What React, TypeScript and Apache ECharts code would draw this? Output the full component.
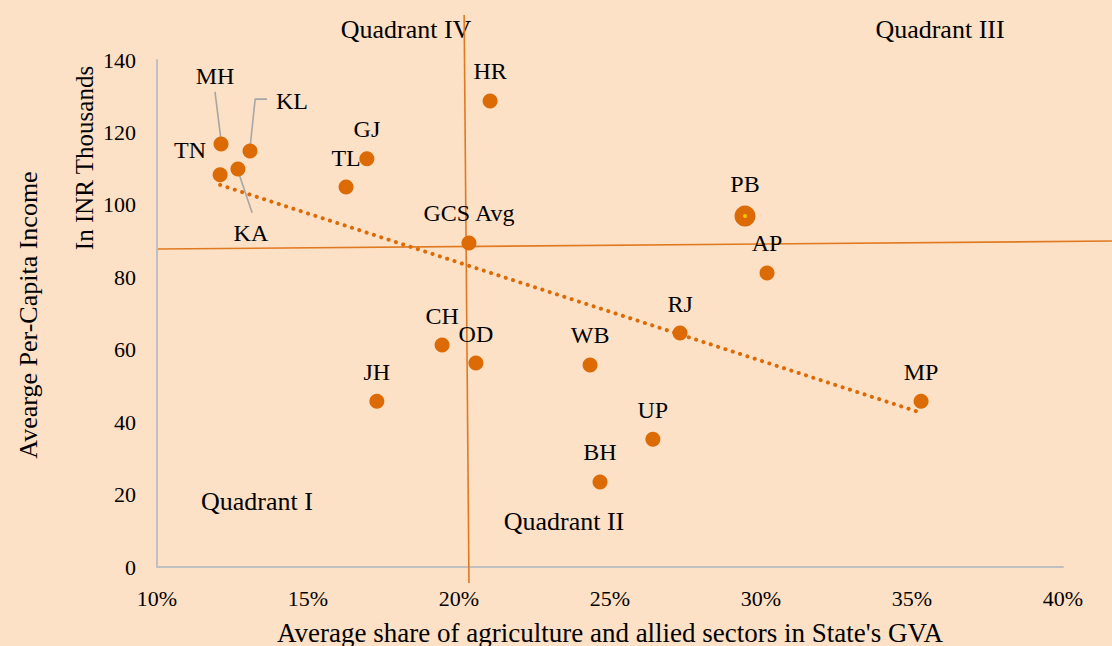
import React, { useEffect, useRef } from "react";
import * as echarts from "echarts";

// Data
const stateNames = ["MH", "KL", "TN", "KA", "GJ", "TL", "HR", "GCS Avg", "PB", "AP", "RJ", "CH", "OD", "WB", "JH", "MP", "UP", "BH"];
const agriShare = [12.12, 13.08, 12.09, 12.68, 16.95, 16.26, 21.03, 20.33, 29.47, 30.2, 27.32, 19.44, 20.56, 24.34, 17.28, 35.3, 26.42, 24.67];
const perCapita = [116.8, 114.9, 108.3, 109.9, 112.7, 104.9, 128.7, 89.5, 96.9, 81.2, 64.6, 61.3, 56.3, 55.8, 45.8, 45.8, 35.3, 23.5];

// Trend line end points
const trendX = [12.09, 35.33];
const trendY = [105.5, 42.5];

// Quadrant divider lines (slightly tilted, as in the original)
const vDividerX = [20.17, 20.33];
const vDividerY = [152.4, -4.4];
const hDividerX = [10.03, 41.62];
const hDividerY = [87.8, 90.0];

// Leader lines for crowded labels
const leaderMH = [[11.92, 131.2], [12.12, 117.9]];
const leaderKL = [[13.64, 129.2], [13.25, 129.2], [13.08, 115.7]];
const leaderKA = [[12.68, 109.4], [13.15, 97.8]];

const xTicks = { min: 10, max: 40, interval: 5 };
const yTicks = { min: 0, max: 140, interval: 20 };

const FONT = "'Liberation Serif', 'Times New Roman', serif";
const ORANGE = "#dc6a05";
const LINE_ORANGE = "#e07a22";
const GREY = "#a6a6a6";

export default function App() {
  const ref = useRef<HTMLDivElement>(null);

  useEffect(() => {
    document.body.style.margin = "0";
    if (!ref.current) return;
    const chart = echarts.init(ref.current, null, { renderer: "svg" });

    const labelOffsets: Record<string, [number, number]> = {
      MH: [-6, -68],
      KL: [42, -50],
      TN: [-30, -25],
      KA: [13, 64],
    };

    const pointData = stateNames.map((n, i) => {
      const item: any = { name: n, value: [agriShare[i], perCapita[i]] };
      if (n === "PB") item.symbolSize = 21;
      return item;
    });

    const pbIdx = stateNames.indexOf("PB");

    const leaderSeries = [leaderMH, leaderKL, leaderKA].map((d) => ({
      type: "line",
      data: d,
      symbol: "none",
      silent: true,
      clip: false,
      lineStyle: { color: GREY, width: 1.6 },
      z: 3,
    }));

    const textStyle = (size: number) => ({
      font: `${size}px ${FONT}`,
      fill: "#000",
      align: "center",
      verticalAlign: "middle",
    });

    const baseGraphic: any[] = [
      { type: "text", x: 406, y: 29, style: { text: "Quadrant IV", ...textStyle(26) } },
      { type: "text", x: 940, y: 29, style: { text: "Quadrant III", ...textStyle(26) } },
      { type: "text", x: 257, y: 501, style: { text: "Quadrant I", ...textStyle(26) } },
      { type: "text", x: 564, y: 521, style: { text: "Quadrant II", ...textStyle(26) } },
      { type: "text", x: 28, y: 315, rotation: Math.PI / 2, style: { text: "Avearge Per-Capita Income", ...textStyle(26) } },
      { type: "text", x: 84, y: 158, rotation: Math.PI / 2, style: { text: "In INR Thousands", ...textStyle(25) } },
    ];

    chart.setOption({
      animation: false,
      backgroundColor: "#fde1c6",
      grid: { left: 157, right: 49, top: 60, bottom: 79, containLabel: false, outerBoundsMode: "none" },
      xAxis: {
        type: "value",
        min: xTicks.min,
        max: xTicks.max,
        interval: xTicks.interval,
        name: "Average share of agriculture and allied sectors in State's GVA",
        nameLocation: "middle",
        nameGap: 52,
        nameTextStyle: { fontFamily: FONT, fontSize: 27, color: "#000" },
        axisLine: { show: true, lineStyle: { color: "#c0c0c0", width: 2 } },
        axisTick: { show: false },
        splitLine: { show: false },
        axisLabel: {
          formatter: "{value}%",
          fontFamily: FONT,
          fontSize: 22,
          color: "#000",
          margin: 20,
        },
      },
      yAxis: {
        type: "value",
        min: yTicks.min,
        max: yTicks.max,
        interval: yTicks.interval,
        axisLine: { show: true, lineStyle: { color: "#c0c0c0", width: 2 } },
        axisTick: { show: false },
        splitLine: { show: false },
        axisLabel: { fontFamily: FONT, fontSize: 22, color: "#000", margin: 21 },
      },
      graphic: baseGraphic,
      series: [
        {
          type: "line",
          data: trendX.map((x, i) => [x, trendY[i]]),
          symbol: "none",
          clip: false,
          silent: true,
          lineStyle: { color: ORANGE, width: 4, type: [0.1, 7.6], cap: "round" },
          z: 3,
        },
        ...leaderSeries,
        {
          type: "scatter",
          data: pointData,
          symbolSize: 15,
          itemStyle: { color: ORANGE, opacity: 1 },
          label: {
            show: true,
            formatter: "{b}",
            position: "top",
            distance: 10,
            fontFamily: FONT,
            fontSize: 24,
            color: "#000",
          },
          labelLayout: (params: any) => {
            const name = stateNames[params.dataIndex];
            const off = labelOffsets[name];
            if (!off) return { hideOverlap: false };
            const r = params.rect;
            return {
              x: r.x + r.width / 2 + off[0],
              y: r.y + r.height / 2 + off[1],
              align: "center",
              verticalAlign: "middle",
              hideOverlap: false,
            };
          },
          z: 5,
        },
        {
          type: "scatter",
          data: [[agriShare[pbIdx], perCapita[pbIdx]]],
          symbolSize: 4,
          itemStyle: { color: "#ffc000", opacity: 1 },
          silent: true,
          z: 6,
        },
      ],
    });

    // Quadrant dividers extend beyond the axes: place them through the chart's own scales.
    const toPx = (x: number, y: number) => chart.convertToPixel({ gridIndex: 0 }, [x, y]) as number[];
    const v0 = toPx(vDividerX[0], vDividerY[0]);
    const v1 = toPx(vDividerX[1], vDividerY[1]);
    const h0 = toPx(hDividerX[0], hDividerY[0]);
    const h1 = toPx(hDividerX[1], hDividerY[1]);
    chart.setOption({
      graphic: [
        ...baseGraphic,
        { type: "line", z: 2, shape: { x1: v0[0], y1: v0[1], x2: v1[0], y2: v1[1] }, style: { stroke: LINE_ORANGE, lineWidth: 1.6 }, silent: true },
        { type: "line", z: 2, shape: { x1: h0[0], y1: h0[1], x2: h1[0], y2: h1[1] }, style: { stroke: LINE_ORANGE, lineWidth: 1.6 }, silent: true },
      ],
    });

    return () => chart.dispose();
  }, []);

  return <div ref={ref} style={{ width: 1112, height: 646 }} />;
}
